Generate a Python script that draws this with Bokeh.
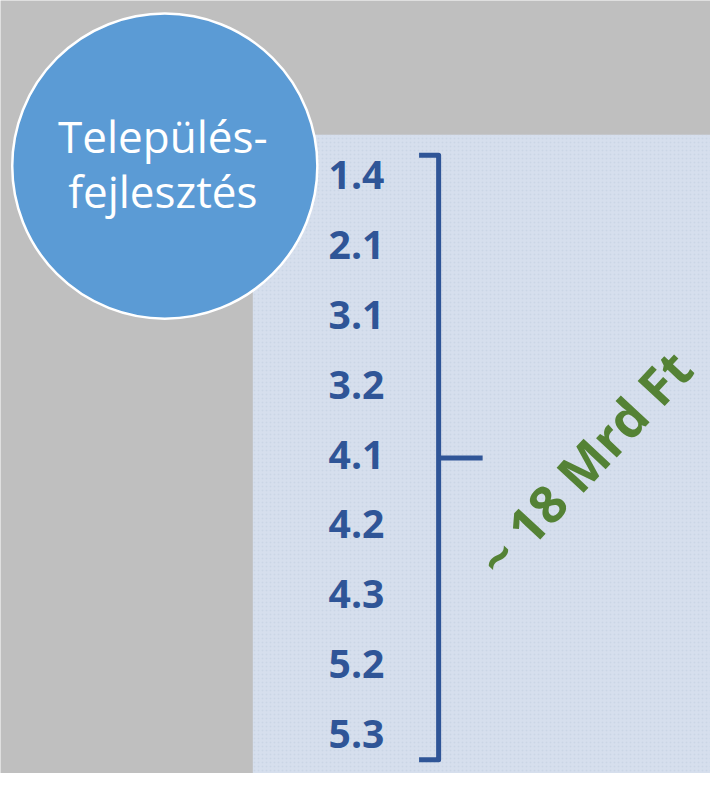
from bokeh.plotting import figure
from bokeh.models import Range1d
from bokeh.core.properties import value
from bokeh.embed import file_html
from bokeh.resources import INLINE

# ---- content ----
title_lines = ["Település-", "fejlesztés"]
codes = ["1.4", "2.1", "3.1", "3.2", "4.1", "4.2", "4.3", "5.2", "5.3"]
total_label = "~ 18 Mrd Ft"

GRAY = "#bfbfbf"
PANEL = "#d6dfed"
CIRCLE = "#5b9bd5"
BLUE = "#2f5597"
GREEN = "#548235"

# design space is 726 x 789, drawn into a 710 x 773 figure
DW, DH = 726, 789
W, H = 710, 773
S = W / DW

p = figure(width=W, height=H, output_backend="svg", toolbar_location=None,
           x_range=Range1d(0, DW), y_range=Range1d(DH, 0), min_border=0)
p.axis.visible = False
p.grid.visible = False
p.outline_line_color = None
p.background_fill_color = GRAY
p.border_fill_color = GRAY

def px(v):
    return f"{v * S:.1f}px"

# light panel
p.quad(left=[258], right=[DW + 20], top=[137], bottom=[DH + 20], fill_color=PANEL,
       line_color=None, hatch_pattern="dot", hatch_color="#bfcbdd",
       hatch_scale=4, hatch_alpha=0.5)

# circle with title
p.circle(x=[168], y=[169], radius=156, fill_color=CIRCLE, line_color="white",
         line_width=2.5)
p.text(x=[166] * len(title_lines), y=[138 + 56 * i for i in range(len(title_lines))],
       text=title_lines, text_align="center", text_baseline="middle",
       text_color="white", text_font=value("Open Sans"), text_font_size=px(45))

# codes
y0, dy = 178.5, 71.25
ys = [y0 + dy * i for i in range(len(codes))]
p.text(x=[364] * len(codes), y=ys, text=codes, text_align="center",
       text_baseline="middle", text_color=BLUE, text_font=value("Open Sans"),
       text_font_style="bold", text_font_size=px(40))

# bracket
top_y, bot_y = 158, 775
mid_y = (top_y + bot_y) / 2 + 0.5
bx = 448
p.line(x=[428, bx, bx, 428], y=[top_y, top_y, bot_y, bot_y], line_color=BLUE,
       line_width=5, line_join="round")
p.line(x=[bx, 493], y=[mid_y, mid_y], line_color=BLUE, line_width=5)

# total
p.text(x=[597], y=[472], text=[total_label], text_align="center",
       text_baseline="middle", angle=47, angle_units="deg", text_color=GREEN,
       text_font=value("Open Sans"), text_font_style="bold",
       text_font_size=px(53))

open("out.html", "w").write(file_html(p, INLINE))
